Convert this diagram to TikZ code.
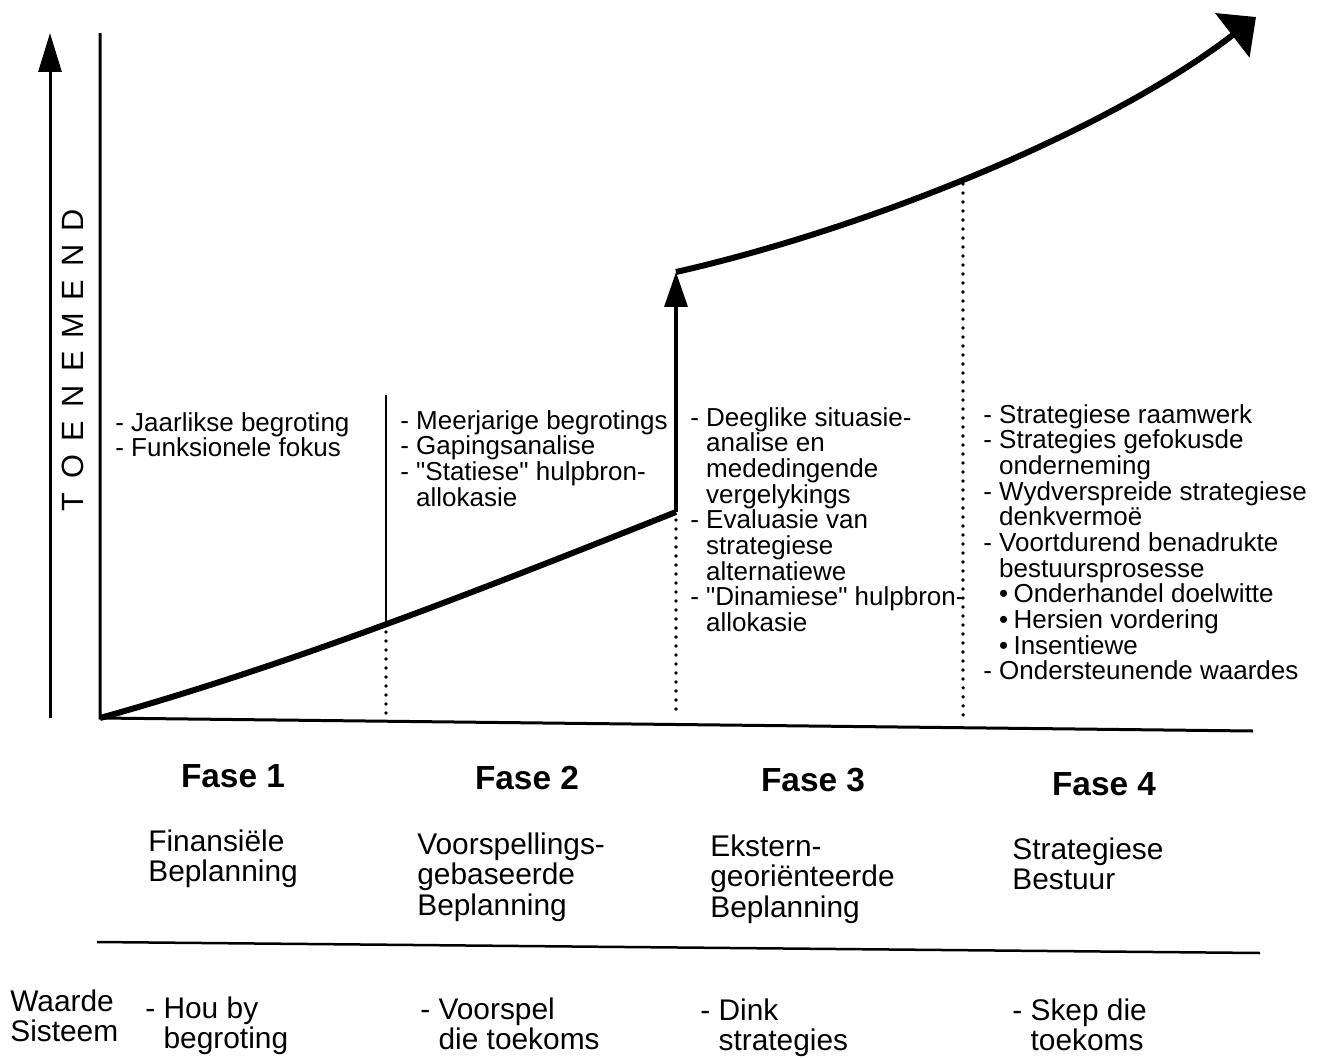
\documentclass[tikz,border=0pt]{standalone}
\usepackage{fontspec}
\setmainfont{Liberation Sans}
\usetikzlibrary{arrows.meta}
\newcommand\dashgap{\hphantom{-\ }}

\begin{document}
\begin{tikzpicture}[x=0.02cm,y=-0.02cm,
  lst/.style={anchor=north west,inner sep=0,align=left,font=\fontsize{14.8}{14.6}\selectfont},
  big/.style={anchor=north west,inner sep=0,align=left,font=\fontsize{17}{17.4}\selectfont},
  fase/.style={inner sep=0,font=\fontsize{19}{19}\selectfont\bfseries},
  curve/.style={line width=0.12cm},
  dots/.style={line width=0.075cm,line cap=round,dash pattern=on 0pt off 0.18cm}]
\useasboundingbox (0,0) rectangle (1322,1058);
\coordinate (o) at (100,718);
\coordinate (ytop) at (100,33);
\coordinate (xend) at (1253,731);
\coordinate (abot) at (50,718);
\coordinate (atop) at (50,33);
\coordinate (lowend) at (676,512);
\coordinate (highstart) at (676,272);
\coordinate (tip) at (1256,17);

% axes
\draw[line width=0.06cm] (ytop) -- (o) -- (xend);
\draw[line width=0.06cm,-{Triangle[width=0.46cm,length=0.78cm]}] (abot) -- (atop);
\foreach \l [count=\i from 0] in {T,O,E,N,E,M,E,N,D}
  \node[rotate=90,anchor=base,inner sep=0,font=\fontsize{17.5}{17.5}\selectfont] (ax\i) at (83,{502-35.25*\i}) {\l};

% growth line with the jump
\draw[curve] (o) .. controls (290,665) and (480,590) .. (lowend);
\draw[line width=0.07cm,-{Triangle[width=0.46cm,length=0.7cm]}] (lowend) -- (highstart);
\draw[curve,-{Triangle[width=1.1cm,length=0.6cm]}] (highstart) .. controls (870,228) and (1110,130) .. (tip);

% phase borders
\coordinate (b1top) at (386,395);
\coordinate (b1mid) at (386,625);
\draw[line width=0.03cm] (b1top) -- (b1mid);
\draw[dots] (386,632) -- (386,716);
\draw[dots] (676,520) -- (676,716);
\draw[dots] (963,184) -- (963,718);

\node[lst] (f1) at (115,412) {- Jaarlikse begroting\\- Funksionele fokus};
\node[lst] (f2) at (400,410) {- Meerjarige begrotings\\- Gapingsanalise\\
  - \textquotedbl Statiese\textquotedbl\ hulpbron-\\\dashgap allokasie};
\node[lst] (f3) at (690,407) {- Deeglike situasie-\\\dashgap analise en\\\dashgap mededingende\\
  \dashgap vergelykings\\- Evaluasie van\\\dashgap strategiese\\\dashgap alternatiewe\\
  - \textquotedbl Dinamiese\textquotedbl\ hulpbron-\\\dashgap allokasie};
\node[lst] (f4) at (983,404) {- Strategiese raamwerk\\- Strategies gefokusde\\\dashgap onderneming\\
  - Wydverspreide strategiese\\\dashgap denkvermoë\\- Voortdurend benadrukte\\
  \dashgap bestuursprosesse\\\dashgap\textbullet\hspace{0.2em}Onderhandel doelwitte\\
  \dashgap\textbullet\hspace{0.2em}Hersien vordering\\\dashgap\textbullet\hspace{0.2em}Insentiewe\\- Ondersteunende waardes};

\node[fase] (p1) at (233,776) {Fase 1};
\node[fase] (p2) at (527,778) {Fase 2};
\node[fase] (p3) at (813,780) {Fase 3};
\node[fase] (p4) at (1104,784) {Fase 4};

\node[big] (d1) at (148,829) {Finansiële\\Beplanning};
\node[big] (d2) at (417,832) {Voorspellings-\\gebaseerde\\Beplanning};
\node[big] (d3) at (710,834) {Ekstern-\\georiënteerde\\Beplanning};
\node[big] (d4) at (1012,837) {Strategiese\\Bestuur};

\draw[line width=0.05cm] (97,942) -- (1260,953);

\node[big] (w0) at (10,989) {Waarde\\Sisteem};
\node[big] (w1) at (145,996) {- Hou by\\\dashgap begroting};
\node[big] (w2) at (420,997) {- Voorspel\\\dashgap die toekoms};
\node[big] (w3) at (700,998) {- Dink\\\dashgap strategies};
\node[big] (w4) at (1012,998) {- Skep die\\\dashgap toekoms};
\end{tikzpicture}
\end{document}
